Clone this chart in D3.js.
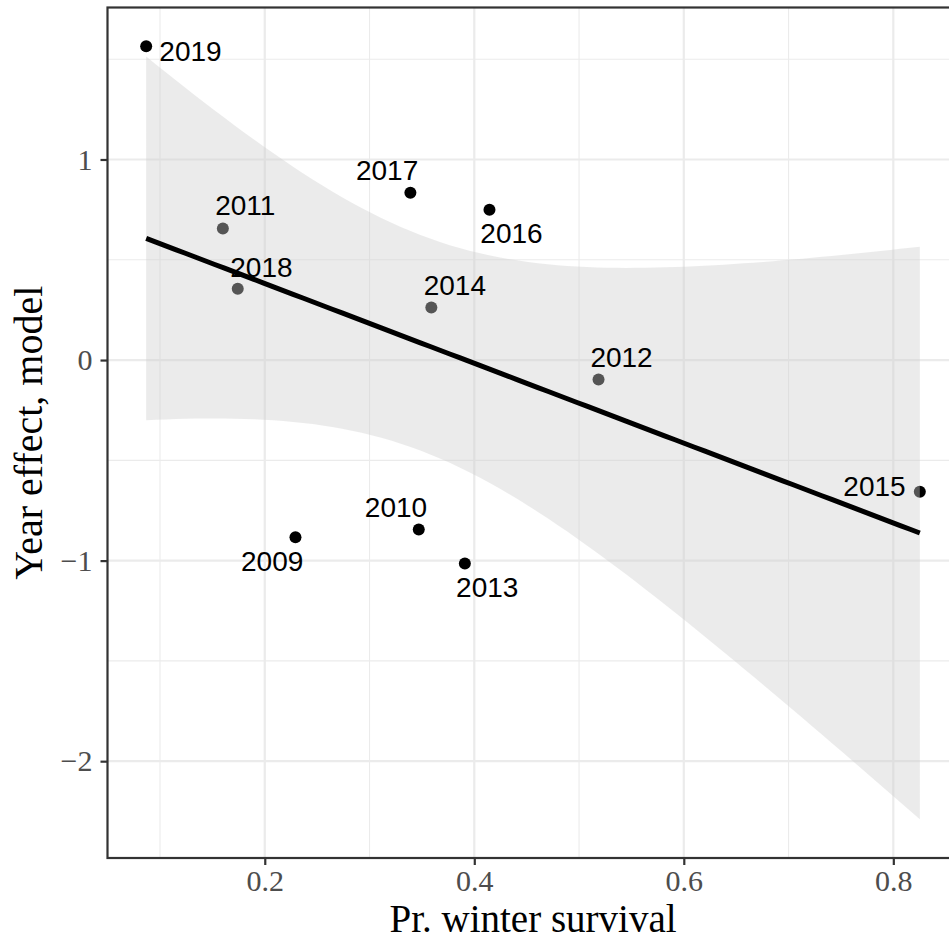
<!DOCTYPE html>
<html>
<head>
<meta charset="utf-8">
<script src="https://cdn.jsdelivr.net/npm/d3@7"></script>
<style>
  body { margin: 0; background: #fff; }
</style>
</head>
<body>
<svg id="chart" width="949" height="940"></svg>
<script>
// Yearly estimates: winter survival probability vs. modelled year effect
const years      = [2009, 2010, 2011, 2012, 2013, 2014, 2015, 2016, 2017, 2018, 2019];
const survival   = [0.2293, 0.347, 0.160, 0.5186, 0.391, 0.359, 0.8253, 0.4145, 0.339, 0.1742, 0.0868];
const yearEffect = [-0.883, -0.845, 0.656, -0.097, -1.014, 0.262, -0.657, 0.749, 0.834, 0.355, 1.565];

const xTicks = [0.2, 0.4, 0.6, 0.8];
const yTicks = [-2, -1, 0, 1];
const xMinor = [0.1, 0.3, 0.5, 0.7];
const yMinor = [-1.5, -0.5, 0.5, 1.5];
const xTitle = "Pr. winter survival";
const yTitle = "Year effect, model";

// Text-label placement (pixel nudges from each point), in year order
const labelNudge = [
  [-23.3, 34], [-22.8, -12.7], [22.4, -13], [23, -12], [22.4, 33.3], [23.5, -12],
  [-45.3, 4.4], [22, 33], [-23.3, -12.6], [23.7, -12.3], [44.3, 15.3]
];

const points = years.map((yr, i) => ({ year: yr, x: survival[i], y: yearEffect[i], nudge: labelNudge[i] }));

// Ordinary least squares fit with 95% confidence band (t, df = n - 2)
const n = points.length;
const mx = d3.mean(points, d => d.x);
const my = d3.mean(points, d => d.y);
const sxx = d3.sum(points, d => (d.x - mx) ** 2);
const sxy = d3.sum(points, d => (d.x - mx) * (d.y - my));
const slope = sxy / sxx;
const intercept = my - slope * mx;
const rss = d3.sum(points, d => (d.y - (intercept + slope * d.x)) ** 2);
const sigma = Math.sqrt(rss / (n - 2));
const tCrit = 2.262157; // 97.5% quantile of t with 9 df
const [xLo, xHi] = d3.extent(points, d => d.x);
const fit = d3.range(80).map(i => {
  const x = xLo + (xHi - xLo) * i / 79;
  const yhat = intercept + slope * x;
  const se = sigma * Math.sqrt(1 / n + (x - mx) ** 2 / sxx);
  return { x, y: yhat, lo: yhat - tCrit * se, hi: yhat + tCrit * se };
});

// Panel geometry
const panel = { left: 107.5, right: 958.5, top: 7.5, bottom: 858 };

// Scale domains: data extent (incl. band) expanded by 5% each side
function expand([a, b]) { const p = (b - a) * 0.05; return [a - p, b + p]; }
const xDom = expand([xLo, xHi]);
const yDom = expand([
  Math.min(d3.min(points, d => d.y), d3.min(fit, d => d.lo)),
  Math.max(d3.max(points, d => d.y), d3.max(fit, d => d.hi))
]);

const x = d3.scaleLinear().domain(xDom).range([panel.left, panel.right]);
const y = d3.scaleLinear().domain(yDom).range([panel.bottom, panel.top]);

const svg = d3.select("#chart");
svg.append("rect").attr("width", 949).attr("height", 940).attr("fill", "#fff");

svg.append("clipPath").attr("id", "panel-clip")
  .append("rect")
  .attr("x", panel.left).attr("y", panel.top)
  .attr("width", panel.right - panel.left).attr("height", panel.bottom - panel.top);

const g = svg.append("g").attr("clip-path", "url(#panel-clip)");

// Grid
g.selectAll(".xminor").data(xMinor).join("line")
  .attr("x1", d => x(d)).attr("x2", d => x(d))
  .attr("y1", panel.top).attr("y2", panel.bottom)
  .attr("stroke", "#ebebeb").attr("stroke-width", 1.1);
g.selectAll(".yminor").data(yMinor).join("line")
  .attr("y1", d => y(d)).attr("y2", d => y(d))
  .attr("x1", panel.left).attr("x2", panel.right)
  .attr("stroke", "#ebebeb").attr("stroke-width", 1.1);
g.selectAll(".xmajor").data(xTicks).join("line")
  .attr("x1", d => x(d)).attr("x2", d => x(d))
  .attr("y1", panel.top).attr("y2", panel.bottom)
  .attr("stroke", "#ebebeb").attr("stroke-width", 2.2);
g.selectAll(".ymajor").data(yTicks).join("line")
  .attr("y1", d => y(d)).attr("y2", d => y(d))
  .attr("x1", panel.left).attr("x2", panel.right)
  .attr("stroke", "#ebebeb").attr("stroke-width", 2.2);

// Points
g.selectAll("circle").data(points).join("circle")
  .attr("cx", d => x(d.x)).attr("cy", d => y(d.y))
  .attr("r", 6).attr("fill", "#000");

// Confidence band
g.append("path").datum(fit)
  .attr("d", d3.area().x(d => x(d.x)).y0(d => y(d.lo)).y1(d => y(d.hi)))
  .attr("fill", "#cecece").attr("fill-opacity", 0.41);

// Fitted line
g.append("path").datum(fit)
  .attr("d", d3.line().x(d => x(d.x)).y(d => y(d.y)))
  .attr("fill", "none").attr("stroke", "#000").attr("stroke-width", 5);

// Year labels
g.selectAll("text.lab").data(points).join("text")
  .attr("class", "lab")
  .attr("x", d => x(d.x) + d.nudge[0])
  .attr("y", d => y(d.y) + d.nudge[1])
  .attr("text-anchor", "middle")
  .attr("font-family", "'Liberation Sans', Arial, sans-serif")
  .attr("font-size", 28)
  .attr("fill", "#000")
  .text(d => d.year);

// Panel border
svg.append("rect")
  .attr("x", panel.left).attr("y", panel.top)
  .attr("width", panel.right - panel.left).attr("height", panel.bottom - panel.top)
  .attr("fill", "none").attr("stroke", "#333").attr("stroke-width", 2.2);

// Axes
const fmtY = v => (v < 0 ? "\u2212" : "") + Math.abs(v);
const xAxis = d3.axisBottom(x).tickValues(xTicks).tickFormat(d3.format(".1f")).tickSize(7).tickPadding(5);
const yAxis = d3.axisLeft(y).tickValues(yTicks).tickFormat(fmtY).tickSize(7).tickPadding(8);

const gx = svg.append("g").attr("transform", `translate(0,${panel.bottom})`).call(xAxis);
const gy = svg.append("g").attr("transform", `translate(${panel.left},0)`).call(yAxis);
[gx, gy].forEach(ax => {
  ax.select(".domain").remove();
  ax.selectAll(".tick line").attr("stroke", "#333").attr("stroke-width", 2.2);
  ax.selectAll(".tick text")
    .attr("fill", "#4d4d4d")
    .attr("font-family", "'Liberation Serif', 'DejaVu Serif', serif")
    .attr("font-size", 30);
});

// Axis titles
svg.append("text")
  .attr("x", (panel.left + panel.right) / 2).attr("y", 932)
  .attr("text-anchor", "middle")
  .attr("font-family", "'Liberation Serif', 'DejaVu Serif', serif")
  .attr("font-size", 39).attr("fill", "#000")
  .text(xTitle);

svg.append("text")
  .attr("transform", `translate(42,${(panel.top + panel.bottom) / 2}) rotate(-90)`)
  .attr("text-anchor", "middle")
  .attr("font-family", "'Liberation Serif', 'DejaVu Serif', serif")
  .attr("font-size", 40).attr("fill", "#000")
  .text(yTitle);
</script>
</body>
</html>
